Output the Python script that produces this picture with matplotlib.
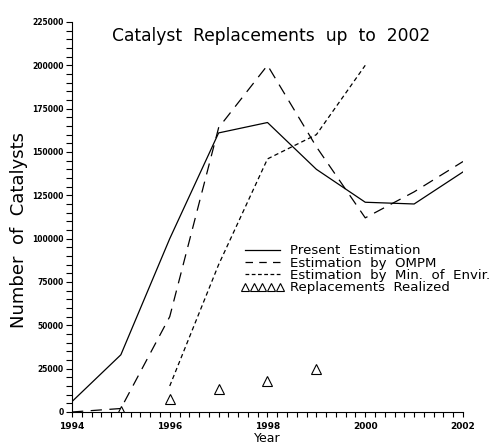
import matplotlib
matplotlib.use("Agg")
import matplotlib.pyplot as plt
from matplotlib.ticker import MultipleLocator
from matplotlib.lines import Line2D

# valores
anos = [1994, 1995, 1996, 1997, 1998, 1999, 2000, 2001, 2002]
estimativa_atual = [6000, 33000, 100000, 161000, 167000, 140000, 121000, 120000, 138500]
estimativa_ompm = [0, 2000, 55000, 164000, 200000, 153000, 112000, 127000, 144500]
anos_amb = [1996, 1997, 1998, 1999, 2000]
estimativa_amb = [15000, 85000, 146000, 160000, 200000]
anos_real = [1995, 1996, 1997, 1998, 1999]
substituicoes = [500, 7500, 13000, 18000, 25000]

nomes = ["Present  Estimation", "Estimation  by  OMPM",
         "Estimation  by  Min.  of  Envir.", "Replacements  Realized"]

fig = plt.figure(figsize=(4.91, 4.45), dpi=100)
ax = fig.add_axes([0.1466, 0.0742, 0.7964, 0.8764])

ax.plot(anos, estimativa_atual, color="black", lw=0.9)
ax.plot(anos, estimativa_ompm, color="black", lw=0.9, dashes=(9, 6))
ax.plot(anos_amb, estimativa_amb, color="black", lw=0.9, dashes=(3.5, 2.5))
ax.plot(anos_real, substituicoes, ls="none", marker="^", ms=7,
        mfc="none", mec="black", mew=0.8)

ax.set_xlim(1994, 2002)
ax.set_ylim(0, 225000)
ax.xaxis.set_major_locator(MultipleLocator(2))
ax.xaxis.set_minor_locator(MultipleLocator(0.2))
ax.yaxis.set_major_locator(MultipleLocator(25000))
ax.yaxis.set_minor_locator(MultipleLocator(5000))
ax.tick_params(which="both", direction="out", length=4.5, width=0.8,
               labelsize=5.5, pad=1.5)
ax.tick_params(axis="x", which="both", length=3.5, pad=4)
for lab in ax.get_xticklabels() + ax.get_yticklabels():
    lab.set_fontweight("bold")
ax.xaxis.set_tick_params(labelsize=6.5)

for lado in ["top", "right"]:
    ax.spines[lado].set_visible(False)
for lado in ["left", "bottom"]:
    ax.spines[lado].set_linewidth(0.8)

ax.set_title("Catalyst  Replacements  up  to  2002", fontsize=12.3,
             color="black", y=0.93, x=0.51)
ax.set_ylabel("Number  of  Catalysts", fontsize=13, color="black")
ax.yaxis.set_label_coords(-0.113, 0.467)
ax.set_xlabel("Year", fontsize=9, labelpad=0)
ax.xaxis.set_label_coords(0.5, -0.052)

alcas = [
    Line2D([], [], color="black", lw=0.9),
    Line2D([], [], color="black", lw=0.9, dashes=(6, 5)),
    Line2D([], [], color="black", lw=0.9, dashes=(3, 2)),
    Line2D([], [], ls="none", marker="^", ms=6, mfc="none", mec="black", mew=0.8),
]
leg = ax.legend(alcas, nomes, loc="upper left", bbox_to_anchor=(0.415, 0.447),
                frameon=False, fontsize=9.6, handlelength=3.2, handletextpad=0.45,
                labelspacing=-0.05, borderpad=0, markerscale=1, numpoints=5)

fig.savefig("out.png", dpi=100)
